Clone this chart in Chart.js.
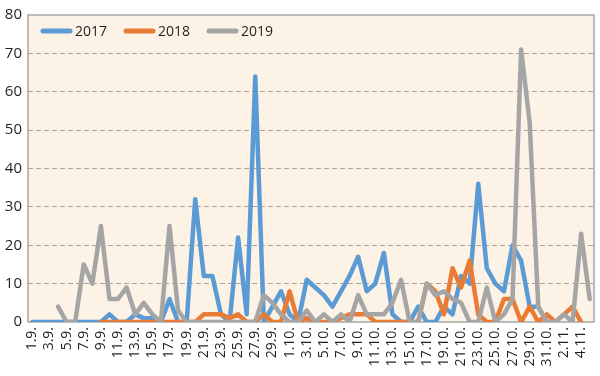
<!DOCTYPE html>
<html><head><meta charset="utf-8">
<script src="https://cdn.jsdelivr.net/npm/chart.js@4/dist/chart.umd.min.js"></script>
<style>html,body{margin:0;padding:0;background:#fff;}#wrap{width:600px;height:376px;position:relative;}</style>
</head><body><div id="wrap"><canvas id="c"></canvas></div>
<script>
const categories = ["1.9.","2.9.","3.9.","4.9.","5.9.","6.9.","7.9.","8.9.","9.9.","10.9.",
"11.9.","12.9.","13.9.","14.9.","15.9.","16.9.","17.9.","18.9.","19.9.","20.9.",
"21.9.","22.9.","23.9.","24.9.","25.9.","26.9.","27.9.","28.9.","29.9.","30.9.",
"1.10.","2.10.","3.10.","4.10.","5.10.","6.10.","7.10.","8.10.","9.10.","10.10.",
"11.10.","12.10.","13.10.","14.10.","15.10.","16.10.","17.10.","18.10.","19.10.","20.10.",
"21.10.","22.10.","23.10.","24.10.","25.10.","26.10.","27.10.","28.10.","29.10.","30.10.",
"31.10.","1.11.","2.11.","3.11.","4.11.","5.11."];
const seriesNames = ["2017","2018","2019"];
const yTicks = [0,10,20,30,40,50,60,70,80];
const values2017 = [0,0,0,0,0,0,0,0,0,2,
0,0,2,1,1,0,6,0,0,32,
12,12,2,0,22,2,64,0,4,8,
2,0,11,9,7,4,8,12,17,8,
10,18,2,0,0,4,0,0,4,2,
12,10,36,14,10,8,20,16,4,4,
0,null,null,null,null,null];
const values2018 = [null,null,null,null,null,null,null,null,0,0,
0,0,0,0,0,0,0,0,0,0,
2,2,2,1,2,0,0,2,0,0,
8,0,1,0,0,0,1,2,2,2,
0,0,0,0,0,0,10,8,2,14,
9,16,2,0,0,6,6,0,4,0,
2,0,2,4,0,null];
const values2019 = [null,null,null,4,0,0,15,10,25,6,
6,9,2,5,2,0,25,3,0,0,
0,0,0,0,0,0,0,7,5,2,
0,0,3,0,2,0,2,0,7,2,
2,2,5,11,0,0,10,7,8,6,
5,0,0,9,0,2,6,71,52,4,
0,0,2,0,23,6];
const colors = ["#5B9BD5","#E97C35","#A5A5A5"];

const FONT = "'Open Sans', 'Noto Sans', sans-serif";
const TEXT = "#231F20";

const areaPlugin = {
  id: 'area',
  beforeDraw(chart) {
    const a = chart.chartArea, ctx = chart.ctx;
    ctx.save();
    ctx.fillStyle = "#FCF2E6";
    ctx.fillRect(a.left, a.top, a.right - a.left, a.bottom - a.top);
    ctx.restore();
  },
  beforeDatasetsDraw(chart) {
    const a = chart.chartArea, ctx = chart.ctx;
    ctx.save();
    ctx.strokeStyle = "#A6A6A6";
    ctx.lineWidth = 1.5;
    ctx.strokeRect(a.left, a.top, a.right - a.left, a.bottom - a.top);
    ctx.restore();
  },
  afterDraw(chart) {
    const a = chart.chartArea, ctx = chart.ctx;
    ctx.save();
    ctx.font = "14px " + FONT;
    ctx.textBaseline = "middle";
    let x = a.left + 15;
    const y = a.top + 16;
    chart.data.datasets.forEach(ds => {
      ctx.strokeStyle = ds.borderColor;
      ctx.lineWidth = 5;
      ctx.lineCap = "round";
      ctx.beginPath();
      ctx.moveTo(x, y);
      ctx.lineTo(x + 27, y);
      ctx.stroke();
      ctx.fillStyle = TEXT;
      ctx.fillText(ds.label, x + 32, y + 1);
      x += 32 + ctx.measureText(ds.label).width + 19;
    });
    ctx.restore();
  }
};

const seriesValues = [values2017, values2018, values2019];
const datasets = seriesNames.map((name, i) => ({
  label: name,
  data: seriesValues[i],
  borderColor: colors[i],
  backgroundColor: colors[i],
  borderWidth: 4.5,
  pointRadius: 0,
  tension: 0,
  borderJoinStyle: 'round',
  borderCapStyle: 'round',
  spanGaps: false,
  order: 2 - i
}));

new Chart(document.getElementById('c'), {
  type: 'line',
  data: { labels: categories, datasets },
  plugins: [areaPlugin],
  options: {
    responsive: true,
    maintainAspectRatio: false,
    animation: false,
    layout: { padding: { top: 15, right: 6, left: 0, bottom: 0 } },
    plugins: { legend: { display: false }, tooltip: { enabled: false } },
    scales: {
      x: {
        offset: true,
        grid: { display: false, drawTicks: false },
        border: { display: false },
        afterFit(s) { s.height = 54; s.paddingLeft = 0; s.paddingRight = 0; },
        ticks: {
          autoSkip: false, maxRotation: 90, minRotation: 90, padding: 5,
          color: TEXT, font: { family: FONT, size: 14 },
          callback(v, i) { return i % 2 === 0 ? categories[i] : ''; }
        }
      },
      y: {
        min: yTicks[0], max: yTicks[yTicks.length - 1],
        afterBuildTicks(s) { s.ticks = yTicks.map(v => ({ value: v })); },
        afterFit(s) { s.width = 28; s.paddingTop = 0; s.paddingBottom = 0; },
        grid: {
          drawTicks: false,
          color(ctx) { const v = ctx.tick && ctx.tick.value; return (v === 0 || v === 80) ? 'rgba(0,0,0,0)' : '#ABA39B'; },
          lineWidth: 1
        },
        border: { display: false, dash: [5, 3] },
        ticks: { padding: 6, color: TEXT, font: { family: FONT, size: 15 } }
      }
    }
  }
});
</script></body></html>
